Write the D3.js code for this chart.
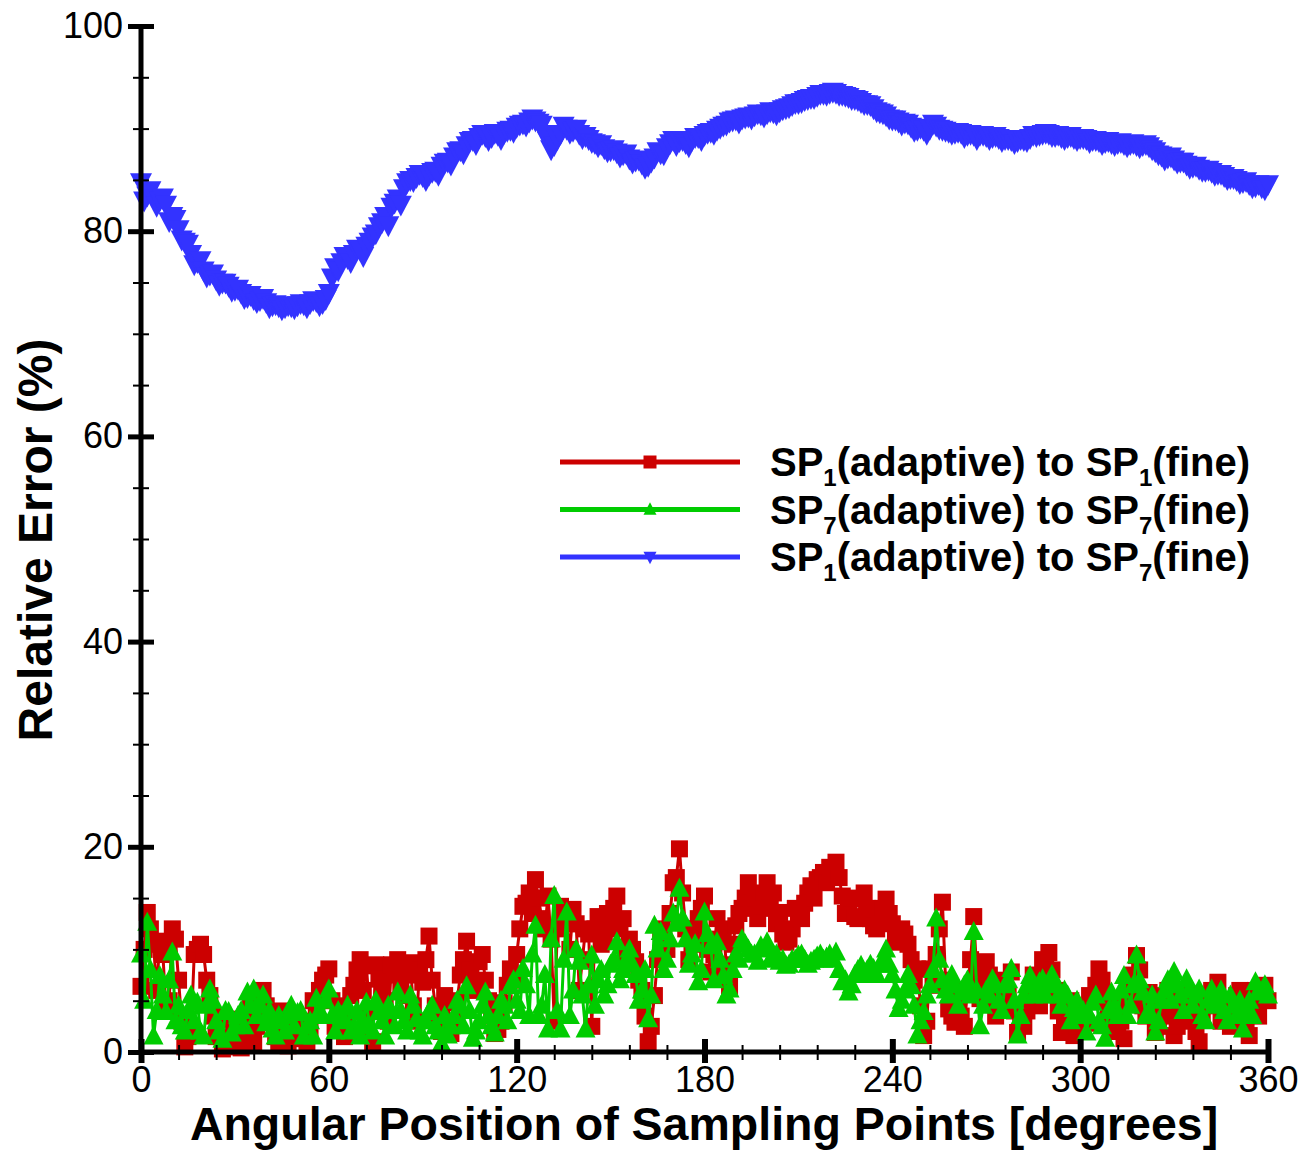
<!DOCTYPE html>
<html>
<head>
<meta charset="utf-8">
<script src="https://cdn.jsdelivr.net/npm/d3@7"></script>
<style>
  html, body { margin: 0; padding: 0; background: #fff; }
  svg { display: block; }
  text { font-family: "Liberation Sans", Arial, sans-serif; fill: #000; }
</style>
</head>
<body>
<svg id="chart" width="1316" height="1150"></svg>
<script>
// Angular positions of the sampling points (degrees), one per degree
const angles = d3.range(0, 361, 1);

// SP1(adaptive) to SP1(fine), ten degrees per row
const errSP1 = [
  6.4, 10.0, 13.6, 12.0, 10.5, 6.0, 10.8, 9.5, 4.0, 5.0,
  12.0, 11.0, 7.0, 3.0, 0.5, 1.5, 2.0, 9.5, 10.0, 10.5,
  9.5, 7.0, 5.5, 3.5, 1.5, 2.5, 0.3, 1.0, 3.2, 0.5,
  2.0, 3.0, 0.4, 1.5, 3.5, 5.0, 1.0, 2.5, 5.8, 6.0,
  4.5, 3.0, 3.9, 1.5, 0.8, 4.0, 2.5, 0.6, 1.8, 3.5,
  1.3, 2.0, 3.0, 0.8, 2.2, 5.0, 4.0, 6.0, 7.0, 7.5,
  8.1, 5.0, 2.5, 3.5, 4.5, 1.5, 3.0, 5.5, 6.5, 8.0,
  9.0, 6.0, 8.4, 4.0, 1.0, 8.5, 7.1, 6.5, 5.0, 3.0,
  8.5, 7.5, 9.0, 6.5, 5.5, 7.5, 8.7, 4.5, 3.0, 8.0,
  6.8, 9.0, 11.3, 7.0, 4.5, 3.5, 2.0, 5.5, 4.8, 1.8,
  3.0, 5.0, 7.5, 9.0, 10.8, 8.0, 6.0, 6.5, 8.8, 9.5,
  7.0, 5.0, 3.5, 1.8, 2.2, 3.0, 4.8, 6.5, 8.1, 7.0,
  9.5, 12.0, 14.2, 14.5, 15.5, 13.5, 16.8, 15.0, 13.0, 12.0,
  15.2, 11.0, 3.0, 12.0, 14.2, 13.5, 12.5, 10.0, 13.9, 12.5,
  6.0, 9.0, 12.0, 11.5, 2.5, 12.0, 13.2, 10.5, 11.0, 13.5,
  12.5, 14.0, 15.2, 12.0, 13.0, 9.5, 11.0, 10.0, 8.8, 7.0,
  6.0, 3.5, 1.0, 2.5, 5.5, 9.0, 12.0, 11.5, 10.0, 13.5,
  16.5, 17.0, 19.8, 15.5, 12.0, 9.0, 10.5, 12.0, 13.0, 14.0,
  15.2, 10.0, 7.8, 9.5, 13.0, 11.0, 12.0, 8.5, 6.4, 10.5,
  12.3, 13.5, 14.0, 15.0, 16.5, 14.5, 15.0, 13.0, 14.2, 15.5,
  16.5, 14.0, 15.5, 12.5, 13.6, 11.5, 10.7, 11.0, 12.0, 14.0,
  13.2, 13.0, 14.5, 15.5, 16.2, 15.0, 16.8, 17.0, 17.5, 16.5,
  18.0, 17.5, 18.5, 17.0, 15.2, 13.5, 14.0, 15.0, 13.2, 13.0,
  14.9, 15.5, 14.0, 13.0, 12.3, 12.0, 13.0, 14.0, 14.9, 13.5,
  12.5, 11.0, 10.7, 12.0, 11.5, 10.5, 9.0, 7.0, 8.1, 4.5,
  1.6, 3.0, 8.1, 6.5, 9.5, 12.0, 14.6, 7.0, 4.2, 3.5,
  2.9, 5.0, 3.5, 2.5, 6.0, 9.0, 13.2, 7.5, 5.2, 6.5,
  8.8, 7.5, 5.0, 3.5, 7.0, 6.0, 4.5, 5.5, 7.8, 4.0,
  1.9, 3.5, 2.5, 4.0, 5.5, 7.5, 6.5, 4.5, 9.0, 8.5,
  9.7, 8.0, 6.0, 4.0, 1.9, 3.0, 3.5, 5.0, 1.6, 2.5,
  4.0, 3.5, 2.8, 5.5, 5.0, 6.5, 8.1, 7.0, 5.5, 4.0,
  3.0, 2.0, 4.5, 3.0, 1.3, 5.0, 6.0, 7.5, 9.4, 8.0,
  4.5, 3.5, 5.8, 4.0, 1.9, 2.5, 3.5, 5.5, 6.0, 4.0,
  1.6, 2.5, 4.8, 6.0, 5.5, 4.0, 3.0, 2.0, 1.0, 3.5,
  4.5, 5.5, 6.0, 5.0, 6.8, 3.0, 4.0, 4.5, 2.5, 3.5,
  5.5, 6.0, 3.5, 2.5, 1.6, 4.5, 6.0, 3.5, 5.5, 6.5,
  5.0
];

// SP7(adaptive) to SP7(fine), ten degrees per row
const errSP7 = [
  9.5, 5.0, 12.6, 8.0, 1.5, 4.0, 7.4, 5.5, 3.9, 7.0,
  9.7, 3.0, 4.5, 2.5, 2.0, 4.0, 5.5, 3.0, 4.8, 2.0,
  1.5, 4.5, 6.1, 5.0, 3.0, 2.0, 1.2, 4.0, 3.9, 1.8,
  2.5, 3.5, 4.0, 2.5, 5.8, 4.5, 6.1, 3.5, 4.5, 5.5,
  2.8, 4.0, 2.2, 1.5, 3.5, 3.0, 2.0, 3.5, 4.5, 2.5,
  3.8, 4.0, 1.5, 2.5, 3.0, 1.5, 5.2, 4.0, 3.5, 5.0,
  6.1, 3.5, 2.0, 4.0, 3.5, 3.0, 4.5, 2.0, 2.5, 4.0,
  1.5, 3.0, 4.8, 2.5, 2.0, 5.0, 3.9, 3.0, 1.5, 4.5,
  4.0, 2.5, 5.8, 4.0, 3.0, 2.0, 5.5, 4.5, 3.2, 2.0,
  1.5, 3.0, 3.9, 4.5, 2.5, 2.0, 0.8, 3.5, 1.6, 2.5,
  3.5, 5.0, 4.5, 2.5, 6.4, 4.0, 1.3, 2.0, 3.0, 4.5,
  5.8, 3.5, 2.5, 1.8, 3.5, 5.0, 4.5, 3.0, 6.4, 7.0,
  5.0, 4.0, 8.1, 6.5, 3.5, 9.5, 12.3, 3.5, 4.5, 7.5,
  2.2, 11.0, 15.2, 4.0, 2.2, 9.0, 13.6, 3.5, 6.0, 10.0,
  8.8, 5.5, 2.2, 6.5, 9.4, 4.5, 7.0, 8.0, 5.5, 6.5,
  8.5, 9.0, 10.7, 7.0, 8.0, 9.0, 10.0, 8.5, 7.5, 5.0,
  6.0, 8.0, 3.2, 5.5, 12.3, 10.0, 11.7, 8.0, 9.0, 11.0,
  13.5, 12.5, 15.9, 13.0, 11.0, 8.5, 9.5, 10.5, 6.8, 8.0,
  13.6, 11.5, 10.3, 7.0, 10.7, 9.0, 7.4, 5.5, 6.1, 8.0,
  9.5, 9.0, 11.0, 10.5, 10.0, 9.5, 9.5, 8.8, 10.3, 10.0,
  10.7, 9.0, 9.5, 9.5, 8.8, 9.0, 8.4, 8.5, 9.0, 9.0,
  9.4, 9.5, 9.0, 8.5, 8.8, 9.0, 9.3, 9.5, 9.0, 9.2,
  9.5, 9.0, 9.7, 8.0, 6.8, 7.0, 5.8, 6.5, 7.5, 8.0,
  8.4, 7.5, 8.0, 8.5, 8.1, 7.5, 8.5, 9.0, 10.0, 8.5,
  7.5, 6.0, 4.2, 5.0, 6.0, 7.5, 6.4, 4.5, 1.6, 3.0,
  3.9, 5.5, 6.5, 8.0, 13.0, 9.0, 7.0, 6.0, 5.5, 7.5,
  6.5, 4.5, 5.8, 6.5, 7.0, 5.5, 11.7, 6.0, 2.5, 4.5,
  6.0, 5.5, 7.1, 6.5, 5.0, 4.0, 6.5, 7.0, 8.1, 5.0,
  1.6, 3.5, 5.5, 6.5, 7.4, 5.5, 6.0, 6.8, 7.1, 5.5,
  6.5, 7.5, 6.8, 5.5, 4.5, 6.0, 5.5, 3.0, 4.2, 5.0,
  3.5, 4.0, 1.9, 3.5, 4.8, 5.5, 3.0, 2.5, 1.3, 4.0,
  5.8, 4.5, 3.5, 6.0, 7.4, 3.5, 4.5, 6.5, 9.4, 7.0,
  5.8, 3.5, 4.0, 5.5, 1.9, 3.0, 5.0, 6.0, 7.0, 5.0,
  7.8, 6.5, 5.5, 4.0, 7.1, 6.0, 4.5, 5.5, 6.1, 3.5,
  3.0, 5.0, 6.1, 4.5, 5.0, 6.0, 4.0, 3.0, 5.5, 4.5,
  3.5, 5.0, 2.2, 4.0, 5.0, 3.5, 6.8, 6.0, 5.8, 6.5,
  5.5
];

// SP1(adaptive) to SP7(fine), ten degrees per row
const errSP1toSP7 = [
  84.8, 83.0, 83.5, 84.0, 83.2, 82.5, 83.0, 83.3, 82.6, 81.0,
  81.5, 81.2, 80.2, 79.2, 79.0, 78.8, 77.8, 76.8, 77.0, 77.2,
  76.2, 75.6, 75.8, 75.9, 75.3, 74.8, 75.0, 75.0, 74.7, 74.2,
  74.3, 74.4, 74.0, 73.5, 73.6, 73.8, 73.4, 73.1, 73.3, 73.5,
  73.1, 72.6, 72.8, 72.9, 72.7, 72.4, 72.6, 72.8, 72.7, 72.5,
  72.8, 73.0, 72.9, 72.6, 73.0, 73.3, 73.2, 72.8, 73.0, 73.4,
  74.0, 75.5, 76.5, 76.2, 77.0, 77.6, 77.4, 77.0, 77.8, 78.3,
  78.2, 77.6, 78.6, 79.0, 79.5, 79.8, 80.5, 80.9, 81.5, 80.6,
  82.4, 82.8, 83.2, 82.6, 84.2, 84.8, 85.0, 84.9, 85.3, 85.6,
  85.4, 85.0, 85.5, 85.8, 85.9, 85.5, 86.4, 86.7, 86.8, 86.5,
  87.3, 87.8, 87.9, 87.6, 88.4, 88.8, 88.9, 88.5, 89.2, 89.5,
  89.3, 88.9, 89.2, 89.6, 89.4, 89.0, 89.6, 89.8, 89.9, 89.7,
  90.2, 90.4, 90.5, 90.3, 90.7, 91.0, 90.8, 90.6, 90.4, 89.5,
  88.8, 88.0, 88.4, 89.0, 89.5, 90.3, 90.0, 89.6, 89.8, 90.0,
  89.5, 89.1, 89.3, 89.0, 88.7, 88.6, 88.3, 88.5, 88.1, 87.8,
  87.9, 88.0, 87.7, 87.3, 87.5, 87.6, 87.1, 86.7, 86.9, 87.0,
  86.6, 86.2, 86.4, 86.8, 87.2, 87.8, 87.6, 87.5, 88.2, 88.6,
  88.9, 88.4, 88.8, 88.9, 88.6, 88.3, 88.9, 89.2, 89.2, 88.9,
  89.4, 89.6, 89.7, 89.5, 89.9, 90.1, 90.3, 90.4, 90.7, 90.8,
  90.9, 90.6, 91.0, 91.1, 91.2, 91.0, 91.3, 91.5, 91.4, 91.2,
  91.5, 91.7, 91.6, 91.4, 91.7, 91.9, 92.0, 92.1, 92.3, 92.5,
  92.5, 92.6, 92.8, 92.9, 93.0, 93.0, 93.2, 93.4, 93.4, 93.3,
  93.5, 93.6, 93.5, 93.3, 93.3, 93.2, 93.1, 92.9, 92.9, 92.8,
  92.6, 92.4, 92.4, 92.3, 92.0, 91.7, 91.6, 91.5, 91.3, 91.0,
  90.9, 90.9, 90.7, 90.4, 90.6, 90.5, 90.2, 89.8, 89.9, 90.1,
  89.9, 89.5, 90.0, 90.5, 90.3, 90.0, 89.9, 89.8, 89.7, 89.5,
  89.6, 89.7, 89.6, 89.2, 89.4, 89.5, 89.4, 89.0, 89.4, 89.4,
  89.3, 89.0, 89.2, 89.3, 89.1, 88.8, 89.0, 89.0, 88.9, 88.6,
  88.8, 89.0, 88.9, 88.8, 89.1, 89.4, 89.3, 89.4, 89.5, 89.6,
  89.5, 89.3, 89.3, 89.4, 89.2, 89.0, 89.2, 89.3, 89.1, 88.9,
  89.1, 89.1, 89.0, 88.7, 88.9, 88.9, 88.8, 88.5, 88.7, 88.8,
  88.6, 88.4, 88.6, 88.7, 88.5, 88.3, 88.5, 88.6, 88.4, 88.2,
  88.4, 88.5, 88.3, 88.0, 87.8, 87.5, 87.4, 87.0, 87.2, 87.3,
  87.0, 86.7, 86.8, 86.8, 86.5, 86.2, 86.3, 86.4, 86.1, 85.9,
  85.9, 86.0, 85.8, 85.5, 85.6, 85.6, 85.4, 85.1, 85.2, 85.2,
  85.0, 84.7, 84.8, 84.9, 84.6, 84.3, 84.4, 84.6, 84.3, 84.1,
  84.6
];

const xMajorTicks = [0, 60, 120, 180, 240, 300, 360];
const xMinorTicks = d3.range(0, 361, 12);
const yMajorTicks = [0, 20, 40, 60, 80, 100];
const yMinorTicks = d3.range(0, 101, 5);

const series = [
  { name: "SP1toSP7", sub: ["1", "7"], values: errSP1toSP7, color: "#3333ff", marker: "triDown" },
  { name: "SP1", sub: ["1", "1"], values: errSP1, color: "#cc0000", marker: "square" },
  { name: "SP7", sub: ["7", "7"], values: errSP7, color: "#00cc00", marker: "triUp" }
];
const legendOrder = ["SP1", "SP7", "SP1toSP7"];

const svg = d3.select("#chart");
const x = d3.scaleLinear().domain([0, 360]).range([141, 1268]);
const y = d3.scaleLinear().domain([0, 100]).range([1052, 26]);

function markerPath(type, s) {
  const h = s / 2;
  if (type === "square") return `M${-h},${-h}H${h}V${h}H${-h}Z`;
  if (type === "triUp") return `M0,${-s * 0.55}L${h},${s * 0.4}L${-h},${s * 0.4}Z`;
  return `M0,${s * 0.55}L${h},${-s * 0.4}L${-h},${-s * 0.4}Z`;
}
const markerSize = { square: 17, triUp: 20, triDown: 22 };

const line = d3.line().x(d => x(d[0])).y(d => y(d[1]));
const plot = svg.append("g");

series.forEach(s => {
  const pts = angles.map((a, i) => [a, s.values[i]]);
  const g = plot.append("g");
  g.append("path").datum(pts)
    .attr("d", line).attr("fill", "none")
    .attr("stroke", s.color).attr("stroke-width", 3).attr("stroke-linejoin", "round");
  g.selectAll("path.m").data(pts).join("path").attr("class", "m")
    .attr("transform", d => `translate(${x(d[0])},${y(d[1])})`)
    .attr("d", markerPath(s.marker, markerSize[s.marker]))
    .attr("fill", s.color);
});

// Axes
const xAxisG = svg.append("g").attr("transform", `translate(0,${y(0)})`);
xAxisG.call(d3.axisBottom(x).tickValues(xMinorTicks).tickFormat("").tickSizeOuter(0));
xAxisG.selectAll(".tick line").attr("y1", -7).attr("y2", 8).attr("stroke-width", 2);
xAxisG.select(".domain").remove();
const xMajG = svg.append("g").attr("transform", `translate(0,${y(0)})`);
xMajG.call(d3.axisBottom(x).tickValues(xMajorTicks).tickFormat(d3.format("d")).tickSizeOuter(0));
xMajG.select(".domain").remove();
xMajG.selectAll(".tick line").attr("y1", -13).attr("y2", 11).attr("stroke-width", 6);
xMajG.selectAll(".tick text").attr("y", 14).attr("dy", "0.71em")
  .style("font-size", "36px").style("font-family", "'Liberation Sans', Arial, sans-serif");

const yAxisG = svg.append("g").attr("transform", `translate(${x(0)},0)`);
yAxisG.call(d3.axisLeft(y).tickValues(yMinorTicks).tickFormat("").tickSizeOuter(0));
yAxisG.selectAll(".tick line").attr("x1", -8).attr("x2", 8).attr("stroke-width", 2);
yAxisG.select(".domain").remove();
const yMajG = svg.append("g").attr("transform", `translate(${x(0)},0)`);
yMajG.call(d3.axisLeft(y).tickValues(yMajorTicks).tickFormat(d3.format("d")).tickSizeOuter(0));
yMajG.select(".domain").remove();
yMajG.selectAll(".tick line").attr("x1", -13).attr("x2", 13).attr("stroke-width", 5);
yMajG.selectAll(".tick text").attr("x", -18)
  .style("font-size", "36px").style("font-family", "'Liberation Sans', Arial, sans-serif");

svg.append("line").attr("x1", x(0)).attr("x2", x(0)).attr("y1", y(100)).attr("y2", y(0))
  .attr("stroke", "#000").attr("stroke-width", 5);
svg.append("line").attr("x1", x(0)).attr("x2", x(360)).attr("y1", y(0)).attr("y2", y(0))
  .attr("stroke", "#000").attr("stroke-width", 5);

// Axis titles
svg.append("text").attr("x", 704).attr("y", 1140).attr("text-anchor", "middle")
  .style("font-size", "46.5px").style("font-weight", "bold")
  .text("Angular Position of Sampling Points [degrees]");
svg.append("text").attr("transform", "translate(52,540) rotate(-90)").attr("text-anchor", "middle")
  .style("font-size", "48px").style("font-weight", "bold")
  .text("Relative Error (%)");

// Legend
const legend = svg.append("g");
legendOrder.forEach((key, i) => {
  const s = series.find(d => d.name === key);
  const cy = 462 + i * 47.5;
  legend.append("line").attr("x1", 560).attr("x2", 740).attr("y1", cy).attr("y2", cy)
    .attr("stroke", s.color).attr("stroke-width", 5);
  legend.append("path").attr("transform", `translate(650,${cy})`)
    .attr("d", markerPath(s.marker, 13)).attr("fill", s.color);
  const t = legend.append("text").attr("x", 770).attr("y", cy + 14)
    .style("font-size", "40px").style("font-weight", "bold");
  t.append("tspan").text("SP");
  t.append("tspan").attr("dy", 10).style("font-size", "24px").text(s.sub[0]);
  t.append("tspan").attr("dy", -10).text("(adaptive) to SP");
  t.append("tspan").attr("dy", 10).style("font-size", "24px").text(s.sub[1]);
  t.append("tspan").attr("dy", -10).text("(fine)");
});
</script>
</body>
</html>
